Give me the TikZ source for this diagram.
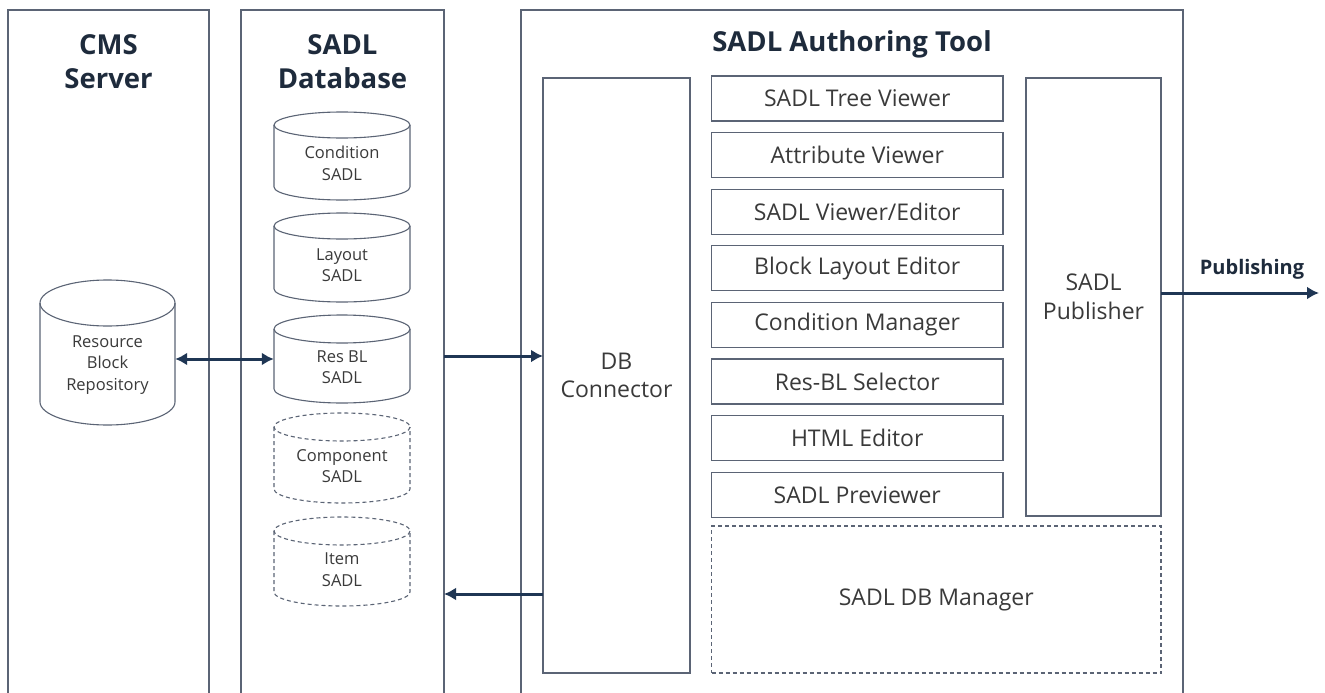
\documentclass[tikz,border=0pt]{standalone}
\usepackage{fontspec}
\setmainfont{Open Sans}
\usetikzlibrary{arrows.meta}

\definecolor{edge}{HTML}{5B6475}
\definecolor{ink}{HTML}{3A3A3A}
\definecolor{head}{HTML}{1E2B3C}
\definecolor{flow}{HTML}{1F3654}

% storage cylinder: #1 name, #2 centre x, #3 top y, #4 bottom y,
% #5 half width, #6 cap half height, #7 line style, #8 label
\newcommand\storecyl[8]{%
  \node[draw=none, minimum width=2*#5pt, minimum height=#4pt-#3pt, inner sep=0]
    (#1) at (#2, {(#3+#4)/2}) {};
  \draw[cylline,#7] (#2-#5, #3+#6) -- (#2-#5, #4-#6)
    arc[start angle=180, end angle=0, x radius=#5, y radius=#6]
    -- (#2+#5, #3+#6);
  \draw[cylline,#7] (#2, #3+#6) ellipse[x radius=#5, y radius=#6];
  \node[cyltext] (#1-label) at (#2, {(#3+#4)/2+#6/2+1}) {#8};
}

\begin{document}
\begin{tikzpicture}[x=1pt, y=-1pt,
  panel/.style={draw=edge, line width=1.3pt, anchor=north west, inner sep=0, outer sep=0},
  paneltitle/.style={font=\fontsize{27.5}{34}\selectfont\bfseries, text=head, align=center, inner sep=0},
  cylline/.style={draw=edge, line width=1.1pt},
  cyltext/.style={font=\fontsize{16.5}{21.5}\selectfont, text=ink, align=center, inner sep=0},
  module/.style={draw=edge, line width=1.3pt, inner sep=0, outer sep=0,
    font=\fontsize{23}{28.5}\selectfont, text=ink, align=center},
  optional/.style={dash pattern=on 4pt off 3pt},
  flowline/.style={draw=flow, line width=3pt},
  pubtext/.style={font=\fontsize{20}{24}\selectfont\bfseries, text=head, inner sep=0}
]
\useasboundingbox (0,0) rectangle (1325,693);
\clip (0,0) rectangle (1325,693);
\fill[white] (0,0) rectangle (1325,693);

% three columns, running past the lower edge
\node[panel, minimum width=201pt, minimum height=700pt] (cms) at (8,10) {};
\node[panel, minimum width=203pt, minimum height=700pt] (db) at (241,10) {};
\node[panel, minimum width=662pt, minimum height=700pt] (tool) at (521,10) {};

\node[paneltitle] (cmstitle) at (108.5,62) {CMS\\Server};
\node[paneltitle] (dbtitle) at (342.5,62) {SADL\\Database};
\node[paneltitle] (tooltitle) at (852,44) {SADL Authoring Tool};

% CMS repository
\storecyl{repo}{107.5}{280}{425}{67.5}{23}{}{Resource\\Block\\Repository}

% SADL database stores
\storecyl{cond}{342}{112}{200}{68}{13}{}{Condition\\SADL}
\storecyl{layout}{342}{213}{302}{68}{13}{}{Layout\\SADL}
\storecyl{resbl}{342}{315}{403}{68}{14}{}{Res BL\\SADL}
\storecyl{comp}{342}{413}{503}{68}{14}{optional}{Component\\SADL}
\storecyl{item}{342}{517}{606}{68}{14}{optional}{Item\\SADL}

% authoring tool modules
\node[module, minimum width=147pt, minimum height=595pt] (conn) at (616.5,375.5) {DB\\Connector};
\foreach \name/\txt [count=\i from 0] in {tree/{SADL Tree Viewer}, attr/{Attribute Viewer},
    view/{SADL Viewer/Editor}, block/{Block Layout Editor}, cman/{Condition Manager},
    sel/{Res-BL Selector}, html/{HTML Editor}, prev/{SADL Previewer}}
  \node[module, minimum width=291.5pt, minimum height=45pt] (\name)
    at (857.25, 98.5+56.6*\i) {\txt};
\node[module, minimum width=135pt, minimum height=438pt] (pub) at (1093.5,297) {SADL\\Publisher};
\node[module, optional, minimum width=449.5pt, minimum height=147pt] (dbman) at (936.25,599.5) {SADL DB Manager};

% data flow
\draw[flowline, {Latex[length=12pt, width=13pt]}-{Latex[length=12pt, width=13pt]}]
  (resbl.west -| repo.east) -- (resbl.west);
\coordinate (dbout) at (444,356);
\coordinate (dbin) at (444,594);
\coordinate (pubend) at (1319,293);
\draw[flowline, -{Latex[length=12pt, width=13pt]}] (dbout) -- (dbout -| conn.west);
\draw[flowline, -{Latex[length=12pt, width=13pt]}] (dbin -| conn.west) -- (dbin);
\draw[flowline, -{Latex[length=12pt, width=13pt]}] (pub.east |- pubend) -- (pubend);
\node[pubtext] (publabel) at (1252,269) {Publishing};
\end{tikzpicture}
\end{document}
